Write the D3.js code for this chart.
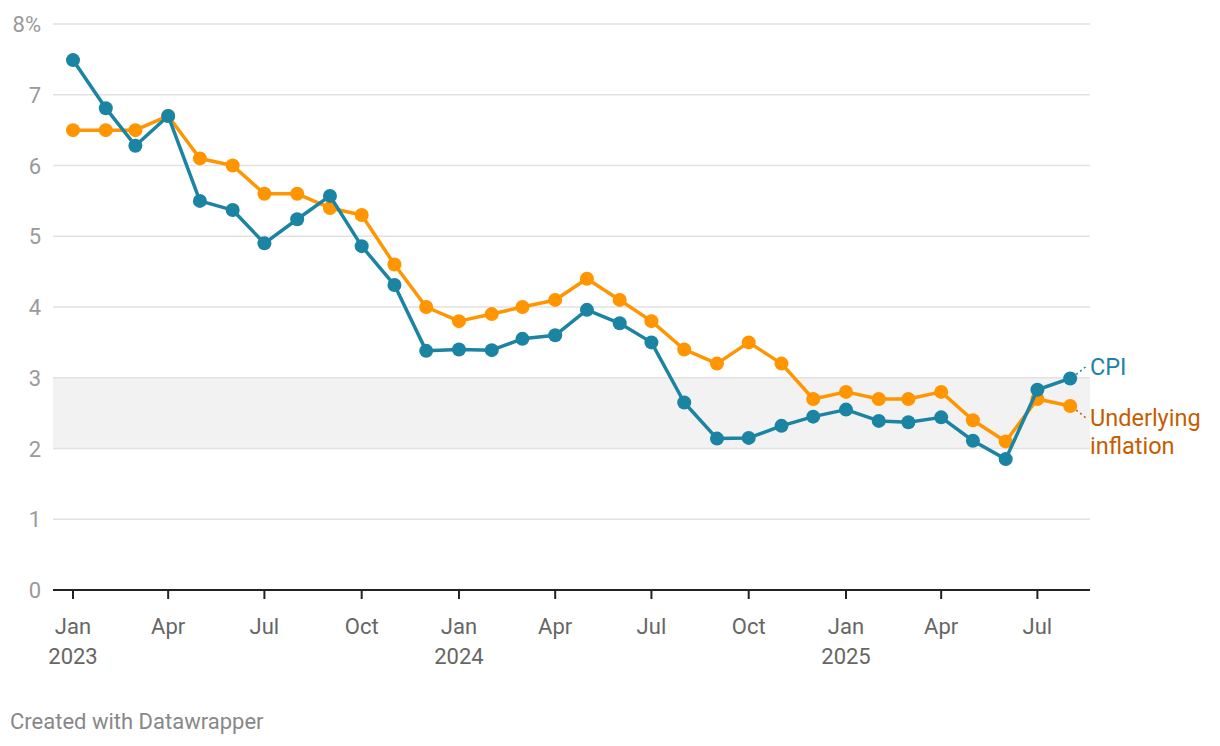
<!DOCTYPE html>
<html>
<head>
<meta charset="utf-8">
<script src="https://cdn.jsdelivr.net/npm/d3@7"></script>
<style>
  body { margin: 0; background: #fff; font-family: Roboto, sans-serif; }
</style>
</head>
<body>
<svg id="chart"></svg>
<script>
// monthly data, Jan 2023 - Aug 2025
var months = ["2023-01","2023-02","2023-03","2023-04","2023-05","2023-06","2023-07","2023-08","2023-09","2023-10","2023-11","2023-12",
              "2024-01","2024-02","2024-03","2024-04","2024-05","2024-06","2024-07","2024-08","2024-09","2024-10","2024-11","2024-12",
              "2025-01","2025-02","2025-03","2025-04","2025-05","2025-06","2025-07","2025-08"];

var cpi = [7.49,6.81,6.28,6.70,5.50,5.37,4.90,5.24,5.57,4.86,4.31,3.38,
           3.40,3.39,3.55,3.60,3.96,3.77,3.50,2.65,2.14,2.15,2.32,2.45,
           2.55,2.39,2.37,2.44,2.11,1.85,2.83,2.99];

var underlying = [6.5,6.5,6.5,6.7,6.1,6.0,5.6,5.6,5.4,5.3,4.6,4.0,
                  3.8,3.9,4.0,4.1,4.4,4.1,3.8,3.4,3.2,3.5,3.2,2.7,
                  2.8,2.7,2.7,2.8,2.4,2.1,2.7,2.6];

var yTicks = [0,1,2,3,4,5,6,7,8];
var xTicks = ["2023-01","2023-04","2023-07","2023-10","2024-01","2024-04","2024-07","2024-10","2025-01","2025-04","2025-07"];
var band = [2,3];

var width = 1220, height = 746;
var svg = d3.select("#chart").attr("width", width).attr("height", height);

var parse = d3.timeParse("%Y-%m");
var dates = months.map(parse);

var x = d3.scaleTime()
    .domain([parse("2023-01"), parse("2025-01")])
    .range([73, 846]);
var y = d3.scaleLinear().domain([0, 8]).range([590, 24]);

var left = 53, right = 1090;

// target band
svg.append("rect")
    .attr("x", left).attr("width", right - left)
    .attr("y", y(band[1])).attr("height", y(band[0]) - y(band[1]))
    .attr("fill", "#f2f2f2");

// gridlines + y labels
svg.selectAll(".grid").data(yTicks.filter(d => d > 0)).enter().append("line")
    .attr("x1", left).attr("x2", right)
    .attr("y1", d => y(d)).attr("y2", d => y(d))
    .attr("stroke", "#e2e2e2").attr("stroke-width", 1.3);

svg.selectAll(".ylab").data(yTicks).enter().append("text")
    .attr("x", 41).attr("y", d => y(d) + 8)
    .attr("text-anchor", "end")
    .attr("font-size", 22).attr("fill", "#9a9a9a")
    .text(d => d == 8 ? "8%" : d);

// x axis
svg.append("line").attr("x1", left).attr("x2", right)
    .attr("y1", y(0)).attr("y2", y(0))
    .attr("stroke", "#222").attr("stroke-width", 2);

svg.selectAll(".xtick").data(xTicks).enter().append("line")
    .attr("x1", d => x(parse(d))).attr("x2", d => x(parse(d)))
    .attr("y1", y(0)).attr("y2", y(0) + 9)
    .attr("stroke", "#222").attr("stroke-width", 2);

var fmtM = d3.timeFormat("%b"), fmtY = d3.timeFormat("%Y");
var xl = svg.selectAll(".xlab").data(xTicks).enter().append("text")
    .attr("x", d => x(parse(d))).attr("y", 634)
    .attr("text-anchor", "middle")
    .attr("font-size", 22).attr("fill", "#666");
xl.append("tspan").attr("x", d => x(parse(d))).text(d => fmtM(parse(d)));
xl.filter(d => d.endsWith("-01")).append("tspan")
    .attr("x", d => x(parse(d))).attr("dy", 30).text(d => fmtY(parse(d)));

// lines
var line = d3.line().x((d, i) => x(dates[i])).y(d => y(d));

function drawSeries(vals, color) {
    svg.append("path").datum(vals)
        .attr("d", line).attr("fill", "none")
        .attr("stroke", color).attr("stroke-width", 3.5)
        .attr("stroke-linejoin", "round");
    svg.selectAll(null).data(vals).enter().append("circle")
        .attr("cx", (d, i) => x(dates[i])).attr("cy", d => y(d))
        .attr("r", 7).attr("fill", color);
}
drawSeries(underlying, "#ff9500");
drawSeries(cpi, "#1c84a3");

// end labels
var lastX = x(dates[dates.length - 1]);
var lastCpi = y(cpi[cpi.length - 1]);
var lastU = y(underlying[underlying.length - 1]);

svg.append("line").attr("x1", lastX + 6).attr("y1", lastCpi - 4)
    .attr("x2", lastX + 16).attr("y2", lastCpi - 12)
    .attr("stroke", "#1c84a3").attr("stroke-width", 1.5).attr("stroke-dasharray", "2,3");
svg.append("text").attr("x", 1090).attr("y", 375)
    .attr("font-size", 23.5).attr("fill", "#1c84a3").text("CPI");

svg.append("line").attr("x1", lastX + 6).attr("y1", lastU + 4)
    .attr("x2", lastX + 16).attr("y2", lastU + 12)
    .attr("stroke", "#c55d00").attr("stroke-width", 1.5).attr("stroke-dasharray", "2,3");
svg.append("text").attr("x", 1090).attr("y", 426)
    .attr("font-size", 23.5).attr("fill", "#c55d00")
    .call(t => {
        t.append("tspan").attr("x", 1090).text("Underlying");
        t.append("tspan").attr("x", 1090).attr("dy", 28).text("inflation");
    });

// footer
svg.append("text").attr("x", 10).attr("y", 729)
    .attr("font-size", 22).attr("fill", "#888")
    .text("Created with Datawrapper");
</script>
</body>
</html>
